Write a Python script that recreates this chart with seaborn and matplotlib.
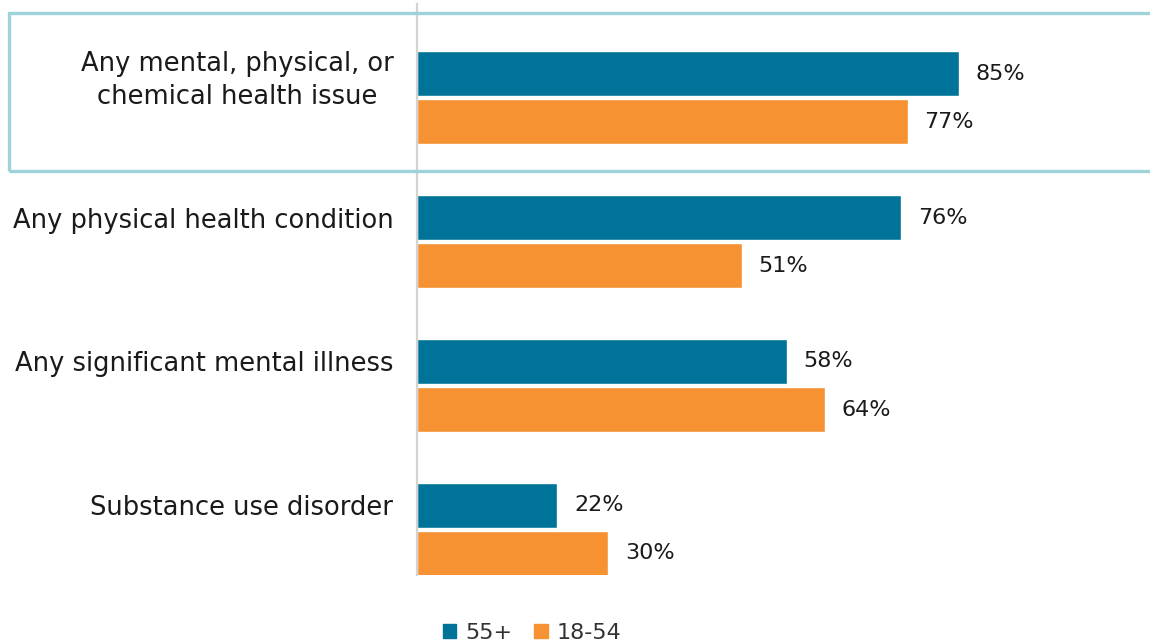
import numpy as np
import pandas as pd
import matplotlib
matplotlib.use("Agg")
import matplotlib.pyplot as plt
from matplotlib.patches import Patch, Rectangle
import seaborn as sns

categories = ["Any mental, physical, or\nchemical health issue",
              "Any physical health condition",
              "Any significant mental illness",
              "Substance use disorder"]
groups = ["55+", "18-54"]
values_55 = [85, 76, 58, 22]
values_18 = [77, 51, 64, 30]
colors = ["#007398", "#F69232"]

df = pd.DataFrame({
    "category": categories * 2,
    "group": [groups[0]] * 4 + [groups[1]] * 4,
    "value": values_55 + values_18,
})

sns.set_style("white")
plt.rcParams["font.family"] = ["DejaVu Sans"]

W, H = 1150, 643
fig = plt.figure(figsize=(W / 100, H / 100), dpi=100)
ax = fig.add_axes([417 / W, 1 - 575 / H, 1 - 417 / W, (575 - 4) / H])

sns.barplot(data=df, y="category", x="value", hue="group", orient="h",
            palette=colors, width=0.668, gap=0.06, ax=ax, legend=False,
            saturation=1)

ax.set_xlim(0, 115)
ax.set_ylim(3.317, -0.651)
ax.set_xlabel("")
ax.set_ylabel("")
ax.set_xticks([])
ax.set_yticks(np.arange(len(categories)) - 0.167)
ax.set_yticklabels(categories, fontsize=18.5, color="#1a1a1a")
for lbl in ax.get_yticklabels():
    lbl.set_multialignment("center")
    lbl.set_linespacing(1.35)
ax.tick_params(axis="y", length=0, pad=17)

for side in ["top", "right", "bottom"]:
    ax.spines[side].set_visible(False)
ax.spines["left"].set_color("#D3D3D3")
ax.spines["left"].set_linewidth(1.6)
ax.spines["left"].set_zorder(5)

for cont in ax.containers:
    ax.bar_label(cont, labels=[f"{v:.0f}%" for v in cont.datavalues],
                 padding=12, fontsize=16, color="#1a1a1a")

# highlight box around the first category
box = Rectangle((9 / W, 1 - 171 / H), (1170 - 9) / W, (171 - 13) / H,
                transform=fig.transFigure, fill=False, edgecolor="#9FD3DA",
                linewidth=2.4, zorder=0, clip_on=False)
fig.patches.append(box)

handles = [Patch(color=c, label=g) for c, g in zip(colors, groups)]
fig.legend(handles=handles, loc="center", bbox_to_anchor=(532 / W, 1 - 633 / H),
           ncol=2, frameon=False, fontsize=16, handlelength=0.6, handleheight=0.6,
           handletextpad=0.4, columnspacing=1.0, labelcolor="#333333")

fig.savefig("out.png", dpi=100)
